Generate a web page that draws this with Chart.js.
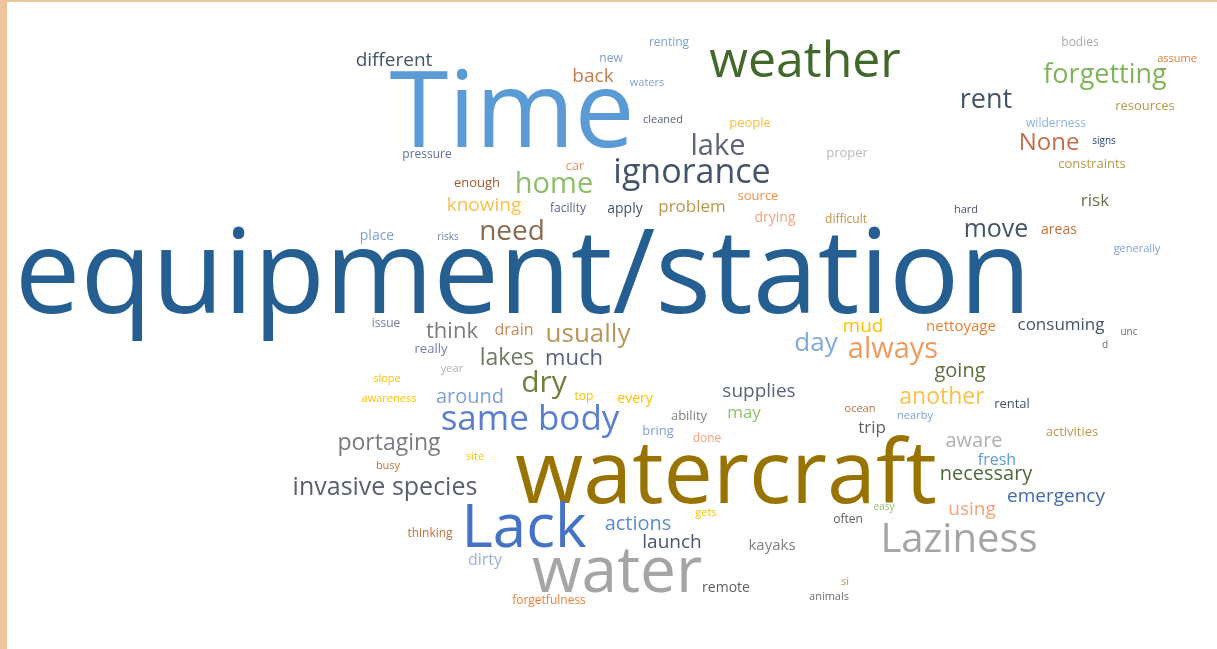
<!DOCTYPE html>
<html>
<head>
<meta charset="utf-8">
<script src="https://cdn.jsdelivr.net/npm/chart.js@4"></script>
<style>
  html, body { margin: 0; padding: 0; width: 1217px; height: 649px; overflow: hidden; background: #ecc59c; }
  #panel { position: absolute; left: 7px; top: 2px; right: 0; bottom: 0; background: #ffffff; }
  #wrap { position: absolute; left: 0; top: 0; width: 1217px; height: 649px; }
</style>
</head>
<body>
<div id="panel"></div>
<div id="wrap"><canvas id="cloud"></canvas></div>
<script>
// words of the cloud, with where they sit (x from left, y = baseline from top) and their weight
const words = [
  'equipment/station', 'Time', 'watercraft', 'water', 'Lack', 'weather', 'Laziness',
  'ignorance', 'same body', 'lake', 'home', 'forgetting', 'rent', 'dry', 'always', 'need',
  'usually', 'day', 'move', 'None', 'portaging', 'invasive species', 'another', 'lakes',
  'much', 'think', 'aware', 'going', 'around', 'actions', 'necessary', 'emergency', 'using',
  'launch', 'knowing', 'back', 'different', 'mud', 'supplies', 'consuming', 'trip', 'risk',
  'problem', 'may', 'fresh', 'drain', 'dirty', 'nettoyage', 'kayaks', 'apply', 'drying',
  'areas', 'place', 'every', 'remote', 'renting', 'new', 'waters', 'cleaned', 'people',
  'pressure', 'car', 'enough', 'facility', 'source', 'difficult', 'proper', 'hard', 'bodies',
  'assume', 'resources', 'wilderness', 'signs', 'constraints', 'risks', 'generally', 'issue',
  'really', 'year', 'unc', 'd', 'slope', 'awareness', 'top', 'ability', 'bring', 'done',
  'ocean', 'rental', 'nearby', 'activities', 'site', 'busy', 'gets', 'thinking', 'easy',
  'often', 'si', 'animals', 'forgetfulness'
];
const xPos = [
  523, 512, 726, 617, 524, 805, 959,
  692, 530, 718, 554, 1105, 986, 544, 893, 512,
  588, 816, 996, 1049, 389, 385, 942, 507,
  574, 452, 974, 960, 470, 638, 986, 1056, 972,
  672, 484, 593, 394, 863, 759, 1061, 872, 1095,
  692, 744, 997, 514, 485, 961, 772, 625, 775,
  1059, 377, 635, 726, 669, 611, 647, 663, 750,
  427, 575, 477, 568, 758, 846, 847, 966, 1080,
  1177, 1145, 1056, 1104, 1092, 448, 1137, 386,
  431, 452, 1129, 1105, 387, 389, 584, 689, 658, 707,
  860, 1012, 915, 1072, 475, 388, 706, 430, 884,
  848, 845, 829, 549
];
const yPos = [
  313, 147, 503, 592, 547, 77, 552,
  183, 430, 155, 193, 83, 108, 392, 358, 240,
  342, 351, 237, 150, 450, 495, 404, 365,
  365, 338, 447, 377, 403, 530, 480, 502, 515,
  548, 211, 82, 66, 332, 397, 330, 433, 206,
  212, 418, 465, 335, 565, 331, 550, 213, 222,
  234, 240, 403, 592, 46, 62, 86, 123, 127,
  158, 170, 187, 212, 200, 223, 157, 213, 46,
  62, 110, 127, 144, 168, 240, 252, 327,
  353, 372, 335, 348, 382, 402, 400, 420, 435, 442,
  412, 408, 419, 436, 460, 469, 516, 537, 510,
  523, 585, 600, 604
];
const weights = [
  117, 107, 88, 64, 60, 50, 40,
  34, 35, 29, 29, 27, 27, 30, 29, 28,
  26, 26, 25, 24, 23, 25, 23, 23,
  22, 22, 20, 20, 20, 20, 20, 19, 19,
  19, 19, 19, 19, 19, 19, 17, 17, 17,
  17, 17, 16, 16, 16, 15, 15, 14, 14,
  14, 14, 14, 14, 12, 12, 11, 11, 13,
  12, 13, 13, 12, 13, 12, 13, 11, 12,
  11, 13, 12, 10, 13, 10, 11, 12,
  13, 11, 10, 10, 11, 11, 12, 13, 13, 12,
  11, 13, 11, 13, 11, 11, 11, 12, 10,
  12, 11, 11, 12
];
const colors = [
  '#255e91', '#5b9bd5', '#997300', '#a5a5a5', '#4472c4', '#43682b', '#a5a5a5',
  '#44546a', '#5b7fcf', '#5d6478', '#8dbf6a', '#7fb458', '#44546a', '#6f7f3e', '#ee9b62', '#8b6a50',
  '#b8975a', '#7faadc', '#44546a', '#c0704a', '#7a7a80', '#5a5f6e', '#f8c24a', '#6e7a60',
  '#5a6080', '#7d7a80', '#b0b0b0', '#5a6e3a', '#7fa0d6', '#5b8ccc', '#4e6b3a', '#3f6aa8', '#f4a07a',
  '#4a5470', '#f7c04a', '#c87d4e', '#44546a', '#ffc000', '#5a6478', '#44546a', '#606060', '#6e6e50',
  '#b8974a', '#8cc06a', '#5b9bd5', '#c88a50', '#9ab0d8', '#ed7d31', '#808080', '#44546a', '#f4a07a',
  '#c0703a', '#7f9fd0', '#ffc000', '#606060', '#7fa0d6', '#7f9fd0', '#7f9fd0', '#55607a', '#f5c242',
  '#5e6e9a', '#f09060', '#a5562a', '#5a6480', '#f09050', '#c09040', '#b8b8b8', '#44546a', '#a8a8a8',
  '#ed7d31', '#b8974a', '#8fb0e0', '#264478', '#b8974a', '#7080b0', '#7fa0d6', '#7080a0',
  '#7080b0', '#b0b0b0', '#707070', '#707070', '#ffc000', '#ffc000', '#ffc000', '#808080', '#7fa0d6', '#f4a07a',
  '#c0703a', '#44546a', '#7fa0d6', '#b8974a', '#ffc000', '#c0703a', '#ffc000', '#c0703a', '#8cc06a',
  '#606060', '#b8974a', '#707070', '#ed7d31'
];

const fontFamily = "'Open Sans', 'Noto Sans', sans-serif";

// draws each word at the pixel spot its point got from the scales
const wordPlugin = {
  id: 'wordLabels',
  afterDatasetsDraw(chart) {
    const ctx = chart.ctx;
    const meta = chart.getDatasetMeta(0);
    ctx.save();
    ctx.textAlign = 'center';
    ctx.textBaseline = 'alphabetic';
    meta.data.forEach((pt, i) => {
      ctx.font = weights[i] + 'px ' + fontFamily;
      ctx.fillStyle = colors[i];
      ctx.fillText(words[i], pt.x, pt.y);
    });
    ctx.restore();
  }
};

const cloudChart = new Chart(document.getElementById('cloud'), {
  type: 'scatter',
  data: {
    datasets: [{
      label: 'words',
      data: words.map((w, i) => ({ x: xPos[i], y: yPos[i] })),
      pointRadius: 0,
      pointHoverRadius: 0,
    }],
  },
  options: {
    responsive: true,
    maintainAspectRatio: false,
    animation: false,
    layout: { padding: 0 },
    plugins: {
      legend: { display: false },
      tooltip: { enabled: false },
    },
    scales: {
      x: { type: 'linear', min: 0, max: 1217, display: false },
      y: { type: 'linear', min: 0, max: 649, reverse: true, display: false },
    },
  },
  plugins: [wordPlugin],
});
</script>
</body>
</html>
